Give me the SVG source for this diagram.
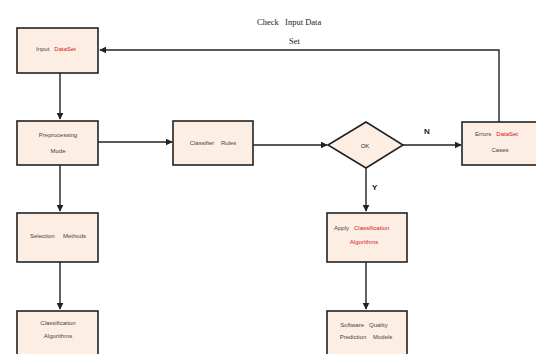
<svg xmlns="http://www.w3.org/2000/svg" width="536" height="354" viewBox="0 0 536 354">
<style>
.box{fill:#fdeee3;stroke:#222;stroke-width:1.6}
.ln{fill:none;stroke:#222;stroke-width:1.4}
.t{font-family:"Liberation Sans",Arial,sans-serif;font-size:6px;fill:#444}
.r{fill:#d9141a}
.s{font-family:"Liberation Serif","Times New Roman",serif;font-size:8.5px;fill:#222}
.lb{font-family:"Liberation Sans",Arial,sans-serif;font-size:8px;font-weight:bold;fill:#222}
</style>
<defs>
<marker id="a" viewBox="0 0 10 10" refX="9" refY="5" markerWidth="7" markerHeight="7" markerUnits="userSpaceOnUse" orient="auto">
<path d="M0,0 L10,5 L0,10 z" fill="#222"/>
</marker>
</defs>
<rect width="536" height="354" fill="#fff"/>
<g id="connectors">
<path class="ln" d="M60,73 V119" marker-end="url(#a)"/>
<path class="ln" d="M60,165 V211" marker-end="url(#a)"/>
<path class="ln" d="M60,262 V309" marker-end="url(#a)"/>
<path class="ln" d="M98,142 H172" marker-end="url(#a)"/>
<path class="ln" d="M253,145 H327" marker-end="url(#a)"/>
<path class="ln" d="M403,145 H461" marker-end="url(#a)"/>
<path class="ln" d="M366,168 V211" marker-end="url(#a)"/>
<path class="ln" d="M366,262 V309" marker-end="url(#a)"/>
<path class="ln" d="M499,122 V50 H100" marker-end="url(#a)"/>
<text class="s" x="257" y="25" xml:space="preserve">Check   Input Data</text>
<text class="s" x="289" y="44">Set</text>
<text class="lb" x="424" y="134">N</text>
<text class="lb" x="372" y="190">Y</text>
</g>
<g id="input">
<rect class="box" x="17" y="28" width="81" height="45"/>
<text class="t" x="36" y="51" xml:space="preserve">Input   <tspan class="r">DataSet</tspan></text>
</g>
<g id="preprocessing">
<rect class="box" x="17" y="121" width="81" height="44"/>
<text class="t" x="58" y="137" text-anchor="middle">Preprocessing</text>
<text class="t" x="58" y="153" text-anchor="middle">Mode</text>
</g>
<g id="classifier">
<rect class="box" x="173" y="121" width="80" height="44"/>
<text class="t" x="213" y="145" text-anchor="middle" xml:space="preserve">Classifier    Rules</text>
</g>
<g id="ok">
<path class="box" d="M328,145 L366,122 L403,145 L366,168 Z"/>
<text class="t" x="365" y="148" text-anchor="middle" style="fill:#223">OK</text>
</g>
<g id="error">
<rect class="box" x="462" y="122" width="80" height="43"/>
<text class="t" x="475" y="136" xml:space="preserve">Errors   <tspan class="r">DataSet</tspan></text>
<text class="t" x="500" y="152" text-anchor="middle">Cases</text>
</g>
<g id="selection">
<rect class="box" x="17" y="213" width="81" height="49"/>
<text class="t" x="58" y="238" text-anchor="middle" xml:space="preserve">Selection     Methods</text>
</g>
<g id="classification">
<rect class="box" x="17" y="311" width="81" height="50"/>
<text class="t" x="58" y="325" text-anchor="middle">Classification</text>
<text class="t" x="58" y="338" text-anchor="middle">Algorithms</text>
</g>
<g id="apply">
<rect class="box" x="327" y="213" width="80" height="49"/>
<text class="t" x="334" y="230" xml:space="preserve">Apply   <tspan class="r">Classification</tspan></text>
<text class="t r" x="364" y="244" text-anchor="middle">Algorithms</text>
</g>
<g id="software">
<rect class="box" x="327" y="311" width="80" height="50"/>
<text class="t" x="364" y="327" text-anchor="middle" xml:space="preserve">Software   Quality</text>
<text class="t" x="366" y="339" text-anchor="middle" xml:space="preserve">Prediction    Models</text>
</g>
</svg>
